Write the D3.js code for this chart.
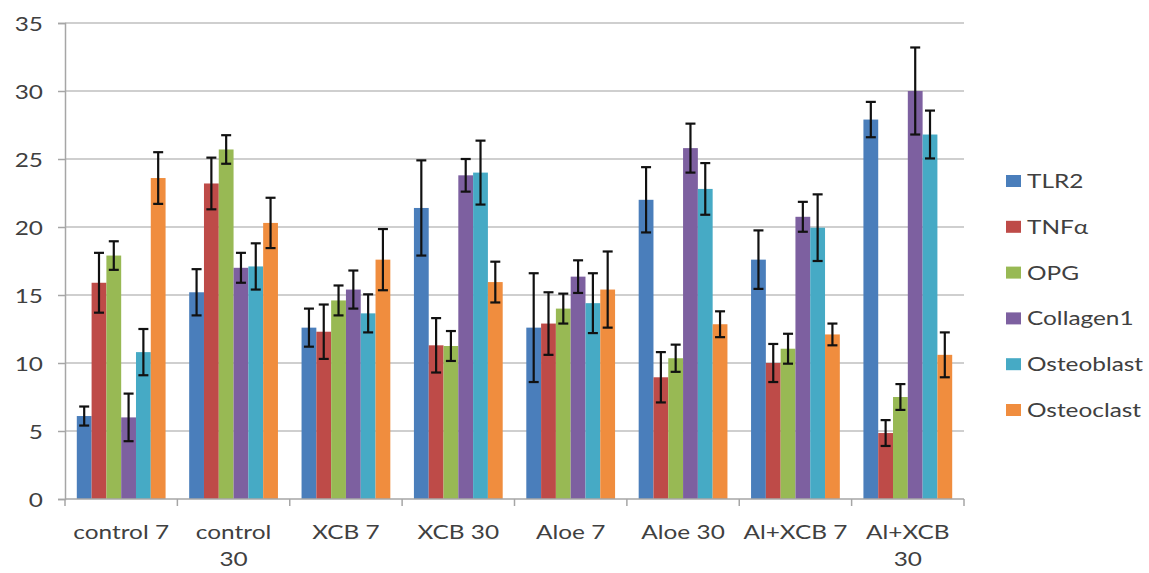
<!DOCTYPE html>
<html><head><meta charset="utf-8">
<script src="https://cdn.jsdelivr.net/npm/d3@7"></script>
<style>
html,body{margin:0;padding:0;background:#fff;}
svg text{font-family:Lato,"Open Sans",sans-serif;fill:#404040;}
</style></head>
<body><svg id="chart" width="1149" height="573"></svg>
<script>
const categories = ["control 7","control 30","XCB 7","XCB 30","Aloe 7","Aloe 30","Al+XCB 7","Al+XCB 30"];
const wrappedLabels = ["control 30","Al+XCB 30"];
const seriesNames = ["TLR2","TNF\u03b1","OPG","Collagen1","Osteoblast","Osteoclast"];
const seriesColors = ["#4A7EBB","#BE4B48","#98B954","#7D60A0","#46AAC5","#F08D3E"];
const tlr2 = [6.1, 15.2, 12.6, 21.4, 12.6, 22.0, 17.6, 27.9];
const tlr2Err = [0.7, 1.7, 1.4, 3.5, 4.0, 2.4, 2.15, 1.3];
const tnfa = [15.9, 23.2, 12.3, 11.3, 12.9, 8.95, 10.0, 4.85];
const tnfaErr = [2.2, 1.9, 2.0, 2.0, 2.3, 1.85, 1.4, 0.95];
const opg = [17.9, 25.7, 14.6, 11.25, 14.0, 10.35, 11.05, 7.5];
const opgErr = [1.05, 1.05, 1.1, 1.1, 1.1, 1.0, 1.1, 0.95];
const collagen1 = [6.0, 17.0, 15.4, 23.8, 16.35, 25.8, 20.75, 30.0];
const collagen1Err = [1.75, 1.1, 1.4, 1.2, 1.2, 1.8, 1.1, 3.2];
const osteoblast = [10.8, 17.1, 13.65, 24.0, 14.4, 22.8, 19.95, 26.8];
const osteoblastErr = [1.7, 1.7, 1.4, 2.35, 2.2, 1.9, 2.45, 1.76];
const osteoclast = [23.6, 20.3, 17.6, 15.95, 15.4, 12.85, 12.1, 10.6];
const osteoclastErr = [1.9, 1.85, 2.25, 1.5, 2.8, 0.95, 0.8, 1.65];
const yTicks = [0,5,10,15,20,25,30,35];

const seriesValues = [tlr2, tnfa, opg, collagen1, osteoblast, osteoclast];
const seriesErrors = [tlr2Err, tnfaErr, opgErr, collagen1Err, osteoblastErr, osteoclastErr];

const svg = d3.select("#chart");
const mLeft = 65, mRight = 964, mTop = 23, mBottom = 499;
const sx = 1.22; // horizontal text stretch of the reference
const fs = 20;

const y = d3.scaleLinear().domain([0,35]).range([mBottom, mTop]);
const x = d3.scaleBand().domain(categories).range([mLeft, mRight]).paddingInner(0.21).paddingOuter(0.105);
const xs = d3.scaleBand().domain(seriesNames).range([0, x.bandwidth()]);
const color = d3.scaleOrdinal().domain(seriesNames).range(seriesColors);

// gridlines
svg.append("g").selectAll("line").data(yTicks.filter(d=>d>0)).join("line")
  .attr("x1", mLeft).attr("x2", mRight)
  .attr("y1", d=>y(d)).attr("y2", d=>y(d))
  .attr("stroke", "#bfbfbf").attr("stroke-width", 1.5);

// y axis
const yAxis = svg.append("g").attr("transform", `translate(${mLeft},0)`)
  .call(d3.axisLeft(y).tickValues(yTicks).tickSize(7).tickPadding(0));
yAxis.select(".domain").attr("stroke", "#a6a6a6").attr("stroke-width", 1.5);
yAxis.selectAll(".tick line").attr("stroke", "#a6a6a6").attr("stroke-width", 1.5);
yAxis.selectAll(".tick text").remove();
yAxis.selectAll(".tick").append("text")
  .attr("text-anchor", "end")
  .attr("transform", `translate(-22,7) scale(${sx},1)`)
  .style("font-size", fs+"px").style("font-family", "Lato").attr("fill", "#404040")
  .text(d=>d);

// bars
const data = [];
categories.forEach((c,i)=>seriesNames.forEach((s,j)=>data.push({c, s, v: seriesValues[j][i], e: seriesErrors[j][i]})));
svg.append("g").selectAll("rect").data(data).join("rect")
  .attr("x", d=>x(d.c)+xs(d.s))
  .attr("width", xs.bandwidth())
  .attr("y", d=>y(d.v))
  .attr("height", d=>y(0)-y(d.v))
  .attr("fill", d=>color(d.s));

// error bars
const eb = svg.append("g").attr("stroke", "#111").attr("stroke-width", 2.2);
data.forEach(d=>{
  const cx = x(d.c)+xs(d.s)+xs.bandwidth()/2;
  eb.append("line").attr("x1",cx).attr("x2",cx).attr("y1",y(d.v+d.e)).attr("y2",y(d.v-d.e));
  eb.append("line").attr("x1",cx-5).attr("x2",cx+5).attr("y1",y(d.v+d.e)).attr("y2",y(d.v+d.e));
  eb.append("line").attr("x1",cx-5).attr("x2",cx+5).attr("y1",y(d.v-d.e)).attr("y2",y(d.v-d.e));
});

// x axis
const xAxis = svg.append("g").attr("transform", `translate(0,${mBottom})`);
xAxis.append("line").attr("x1", mLeft).attr("x2", mRight).attr("stroke","#a6a6a6").attr("stroke-width",1.5);
const boundaries = d3.range(categories.length+1).map(i=> i<categories.length ? x(categories[i]) - x.step()*x.paddingOuter() : mRight);
xAxis.selectAll(".tk").data(boundaries).join("line").attr("class","tk")
  .attr("x1", d=>d).attr("x2", d=>d).attr("y1", 0).attr("y2", 7)
  .attr("stroke","#a6a6a6").attr("stroke-width",1.5);
categories.forEach(c=>{
  const lines = wrappedLabels.includes(c) ? [c.slice(0,c.lastIndexOf(" ")), c.slice(c.lastIndexOf(" ")+1)] : [c];
  const cx = x(c)+x.bandwidth()/2;
  lines.forEach((ln,k)=>{
    svg.append("text").attr("text-anchor","middle")
      .attr("transform", `translate(${cx},${539+k*27}) scale(${sx},1)`)
      .style("font-size", fs+"px").text(ln);
  });
});

// legend
const lg = svg.append("g");
seriesNames.forEach((s,i)=>{
  const cy = 181 + i*45.8;
  lg.append("rect").attr("x",1006).attr("y",cy-6).attr("width",15).attr("height",12).attr("fill",color(s));
  lg.append("text").attr("transform", `translate(1027,${cy+7}) scale(${sx},1)`)
    .style("font-size", fs+"px").text(s);
});
</script></body></html>
